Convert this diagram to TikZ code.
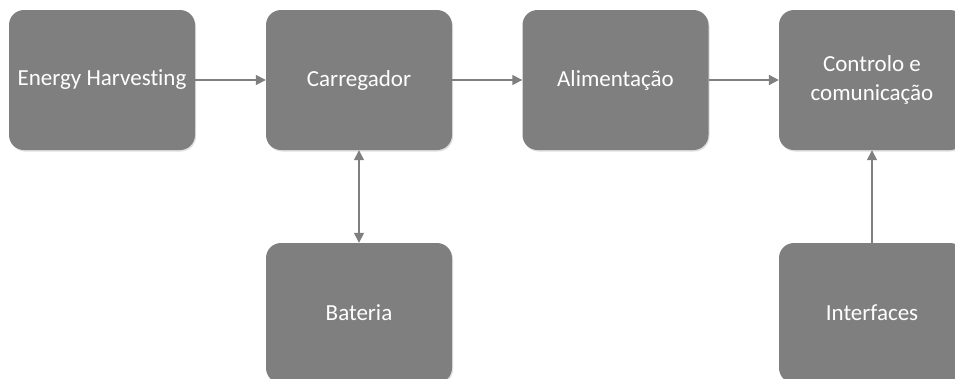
\documentclass[tikz,border=0pt]{standalone}
\usepackage{fontspec}
\setmainfont[Ligatures=CommonOff]{Carlito}
\usetikzlibrary{arrows.meta,shadows}
\definecolor{boxgray}{HTML}{7F7F7F}
\definecolor{linkgray}{HTML}{7F7F7F}
\begin{document}
\begin{tikzpicture}[x=1pt,y=-1pt,
  block/.style={fill=boxgray, rounded corners=15pt, minimum width=186pt,
    minimum height=140pt, text=white, font=\fontsize{23}{29}\selectfont,
    align=center, inner sep=0pt,
    drop shadow={opacity=0.25, shadow xshift=1pt, shadow yshift=-1.5pt}},
  link/.style={draw=linkgray, line width=1.5pt, -{Triangle[length=10pt,width=10pt]}}]
  \useasboundingbox (0,0) rectangle (955,378);
  \clip (0,0) rectangle (955,378);
  % processing chain
  \node[block] (harv) at (102,80) {\raisebox{-2pt}{Energy Harvesting}};
  \node[block] (carr) at (359,80) {\raisebox{-2pt}{Carregador}};
  \node[block] (alim) at (615.5,80) {\raisebox{-2pt}{Alimentação}};
  \node[block] (ctrl) at (872,80) {Controlo e\\comunicação};
  % lower row
  \node[block] (bat) at (359,313) {\raisebox{-2pt}{Bateria}};
  \node[block] (intf) at (872,313) {\raisebox{-2pt}{Interfaces}};
  % connectors
  \draw[link] (harv.east) -- (carr.west);
  \draw[link] (carr.east) -- (alim.west);
  \draw[link, line width=2pt] (alim.east) -- (ctrl.west);
  \draw[link, {Triangle[length=10pt,width=10pt]}-{Triangle[length=10pt,width=10pt]}] (carr.south) -- (bat.north);
  \draw[link] (intf.north) -- (ctrl.south);
\end{tikzpicture}
\end{document}
